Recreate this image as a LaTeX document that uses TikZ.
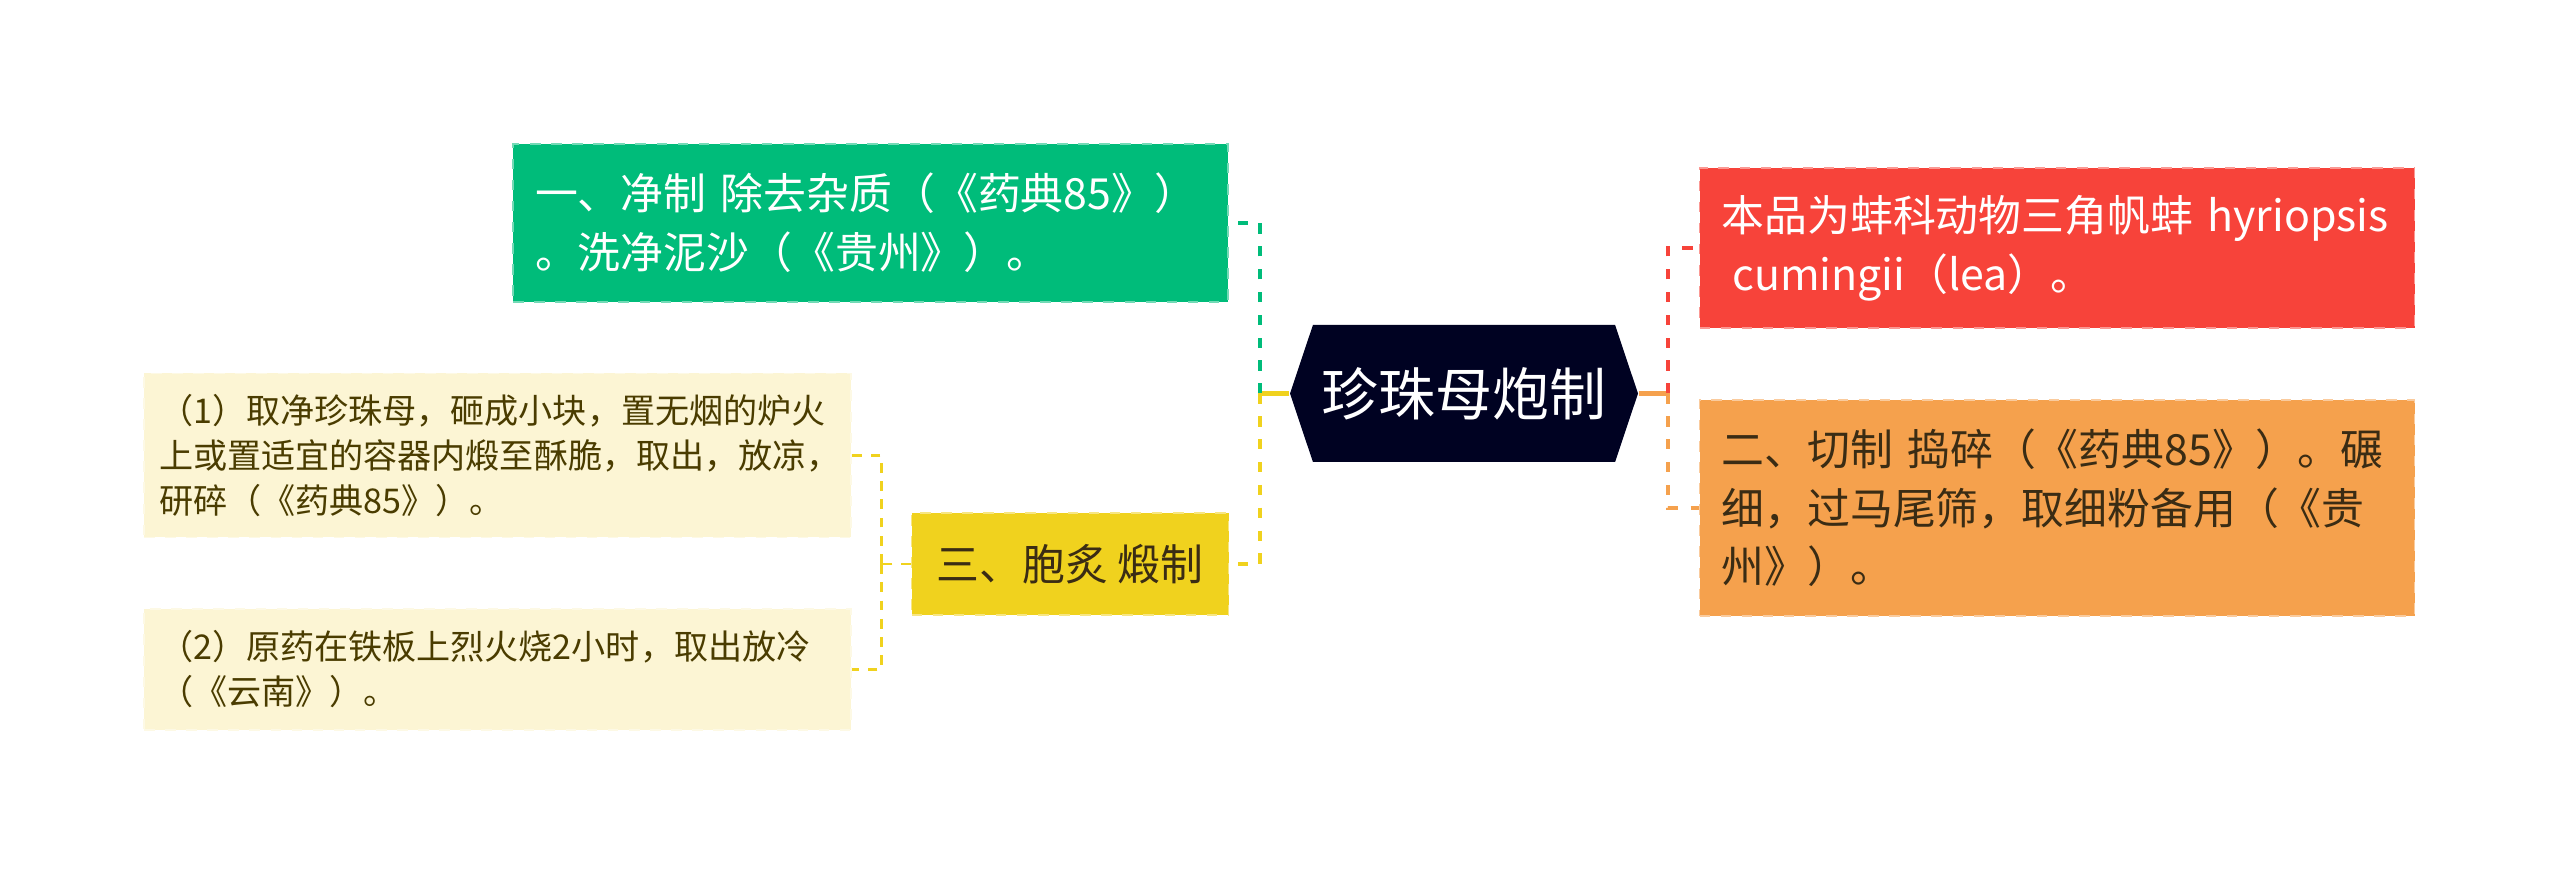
\documentclass[tikz,border=0pt]{standalone}
\usepackage{fontspec}
\newfontfamily\cjk{Noto Sans CJK SC}
\usepackage{tikz}
\usetikzlibrary{shapes.symbols,positioning}
\definecolor{rootNavy}{RGB}{0,2,34}
\definecolor{topicGreen}{RGB}{0,188,122}
\definecolor{topicRed}{RGB}{247,67,58}
\definecolor{topicOrange}{RGB}{245,161,77}
\definecolor{topicYellow}{RGB}{240,210,30}
\definecolor{noteYellow}{RGB}{252,245,212}
\definecolor{darkText}{RGB}{58,44,20}
\definecolor{noteText}{RGB}{74,60,0}

\begin{document}
\begin{tikzpicture}[
  every node/.style={font=\cjk},
  topic/.style={rectangle, dashed, line width=0.5pt, inner xsep=0.22cm, inner ysep=0pt,
    align=left, font=\cjk\fontsize{12.2}{16.7}\selectfont},
  note/.style={topic, inner xsep=0.15cm, font=\cjk\fontsize{9.7}{12.8}\selectfont},
  link/.style={line width=1.4pt},
  dlink/.style={link, dash pattern=on 2.9pt off 3.6pt},
  sublink/.style={line width=0.8pt, dash pattern=on 2.8pt off 2.4pt, topicYellow},
]
  \useasboundingbox (0,0) rectangle (25.6,8.75);
  % Root
  \node[signal, signal to=west and east, signal pointer angle=143, fill=rootNavy,
    text=white, minimum width=3.48cm, minimum height=1.37cm, inner sep=0pt,
    font=\cjk\fontsize{16.2}{18}\selectfont] (root) at (14.64,4.815) {珍珠母炮制};
  % Topics
  \node[topic, fill=topicGreen, draw=topicGreen!55!white, text=white,
    text width=6.71cm, minimum height=1.58cm] (jing) at (8.705,6.52)
    {一、净制 除去杂质（《药典85》）\\。洗净泥沙（《贵州》）。};
  \node[topic, fill=topicYellow, draw=topicYellow!55!white, text=darkText,
    minimum width=3.17cm, minimum height=1.02cm] (duan) at (10.70,3.11)
    {三、胞炙 煅制};
  \node[topic, fill=topicRed, draw=topicRed!55!white, text=white,
    text width=6.71cm, minimum height=1.60cm] (src) at (20.57,6.27)
    {本品为蚌科动物三角帆蚌 hyriopsis\\\hspace*{0.25em}cumingii（lea）。};
  \node[topic, fill=topicOrange, draw=topicOrange!55!white, text=darkText,
    text width=6.71cm, minimum height=2.16cm] (qie) at (20.57,3.67)
    {二、切制 捣碎（《药典85》）。碾\\细，过马尾筛，取细粉备用（《贵\\州》）。};
  % Notes
  \node[note, fill=noteYellow, draw=noteYellow!60!white, text=noteText,
    text width=6.77cm, minimum height=1.64cm] (n1) at (4.975,4.195)
    {（1）取净珍珠母，砸成小块，置无烟的炉火\\上或置适宜的容器内煅至酥脆，取出，放凉，\\研碎（《药典85》）。};
  \node[note, fill=noteYellow, draw=noteYellow!60!white, text=noteText,
    text width=6.77cm, minimum height=1.21cm] (n2) at (4.975,2.055)
    {（2）原药在铁板上烈火烧2小时，取出放冷\\（《云南》）。};
  % Joints
  \coordinate (lj) at (12.60,4.815);
  \coordinate (rj) at (16.68,4.815);
  \coordinate (sj) at (8.815,3.11);
  % Connectors
  \draw[link, topicYellow] (root.west) -- (lj);
  \draw[dlink, topicGreen] (lj) |- (jing.east);
  \draw[dlink, topicYellow] (lj) |- (duan.east);
  \draw[link, topicOrange] (root.east) -- (rj);
  \draw[dlink, topicRed] (rj) |- (src.west);
  \draw[dlink, topicOrange] (rj) |- (qie.west);
  \draw[sublink] (duan.west) -- (sj);
  \draw[sublink] (sj) |- (n1.east);
  \draw[sublink] (sj) |- (n2.east);
\end{tikzpicture}
\end{document}
